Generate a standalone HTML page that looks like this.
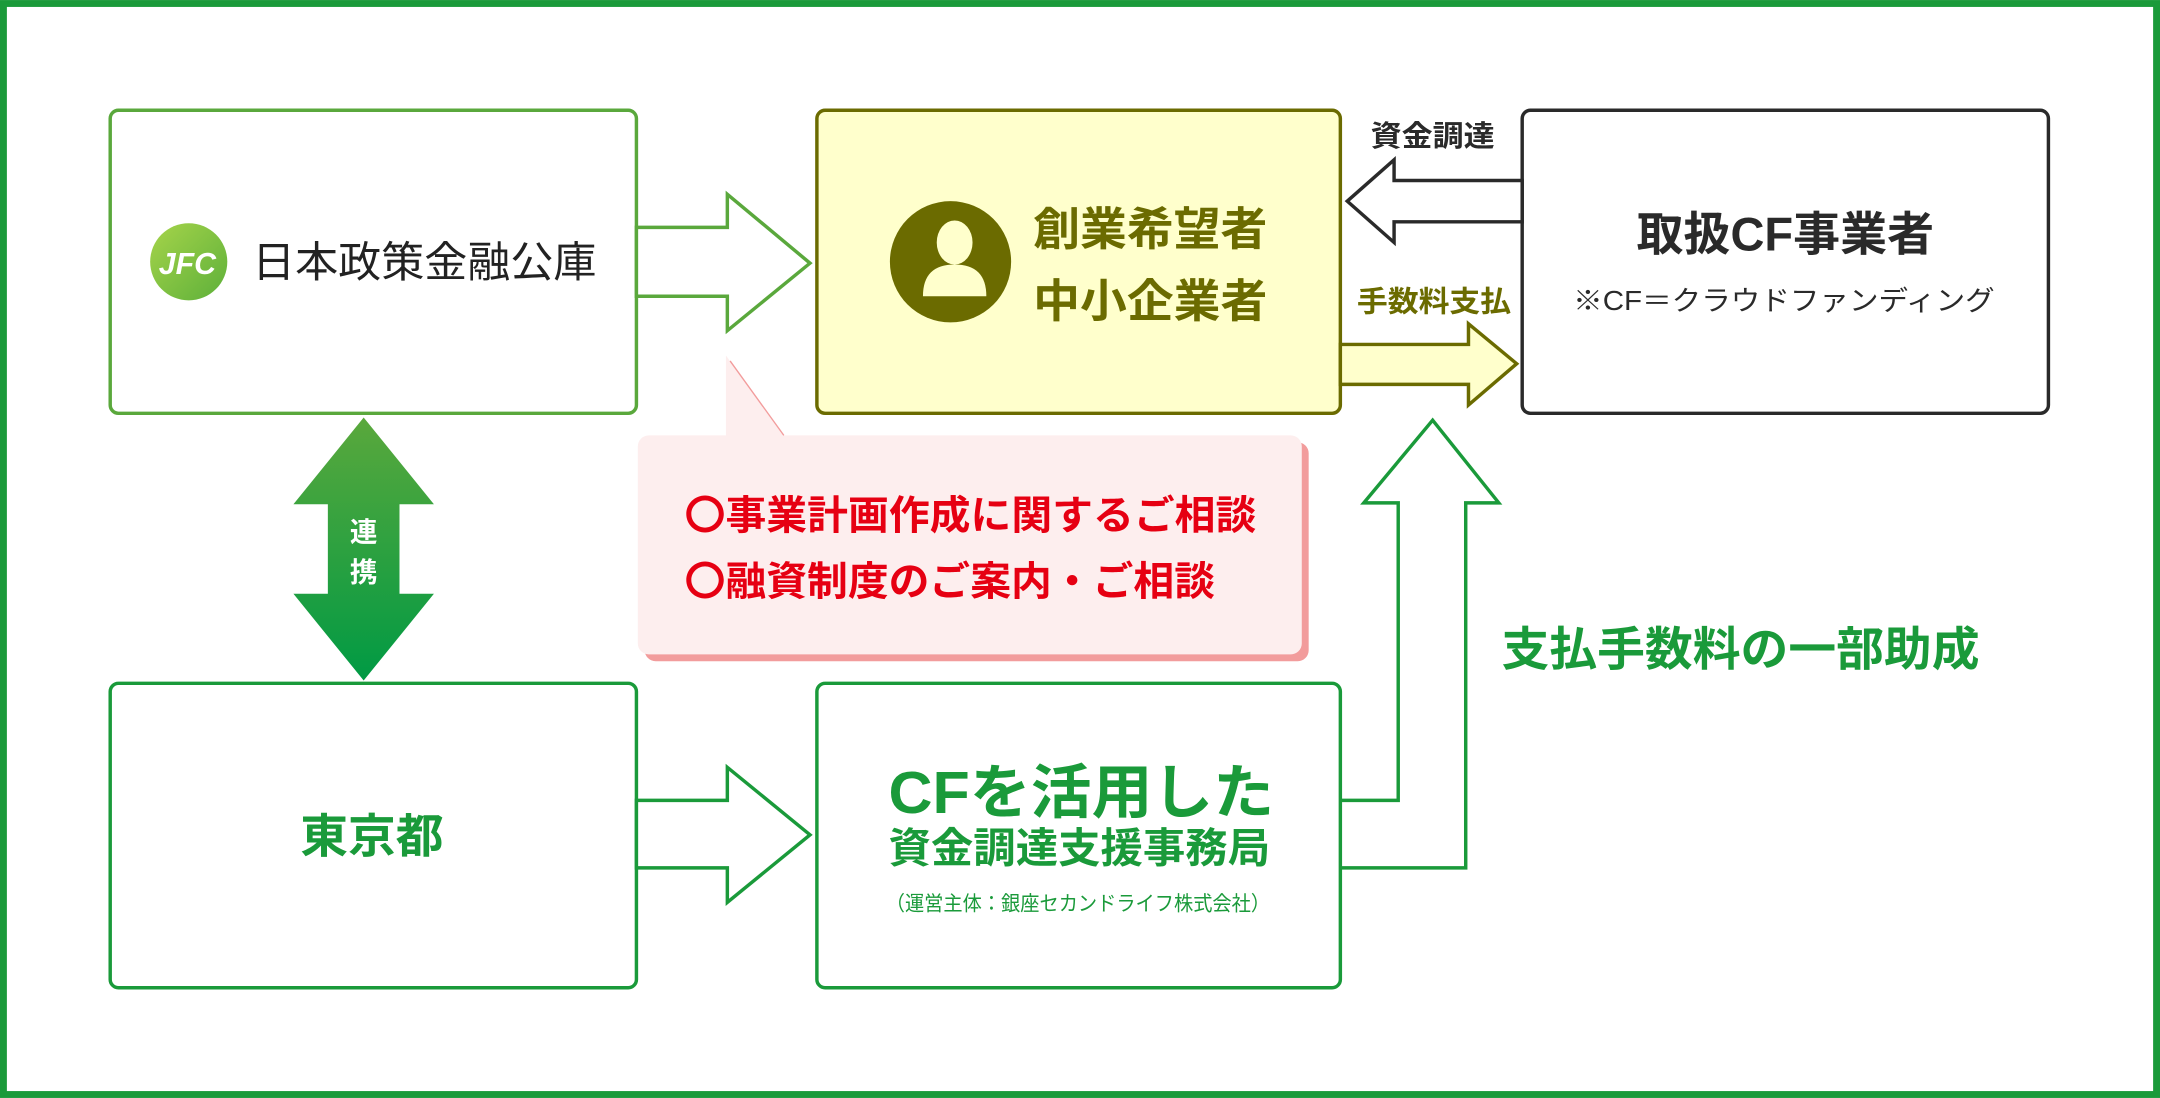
<!DOCTYPE html>
<html><head><meta charset="utf-8"><style>
html,body{margin:0;padding:0;background:#fff}
svg{display:block}
text{font-family:"Liberation Sans","Noto Sans CJK JP",sans-serif}
</style></head><body>
<svg width="2160" height="1098" viewBox="0 0 1568 797" xmlns="http://www.w3.org/2000/svg">
<defs>
<linearGradient id="dg" x1="0" y1="0" x2="0" y2="1"><stop offset="0" stop-color="#5aa83c"/><stop offset="1" stop-color="#009a44"/></linearGradient>
<linearGradient id="lg" x1="0" y1="0" x2="1" y2="1"><stop offset="0" stop-color="#a6d44a"/><stop offset="1" stop-color="#5db03a"/></linearGradient>
</defs>
<rect x="2.5" y="2.5" width="1563" height="792" fill="#fff" stroke="#1a9a3a" stroke-width="5"/>

<!-- JFC box -->
<rect x="80" y="80" width="382" height="220" rx="6" fill="#fff" stroke="#5aa83c" stroke-width="2.5"/>
<circle cx="137" cy="190" r="28" fill="url(#lg)"/>
<text x="136" y="199" font-size="22" font-weight="bold" font-style="italic" fill="#fff" text-anchor="middle">JFC</text>
<text x="183" y="201" font-size="31" fill="#222" textLength="250" lengthAdjust="spacingAndGlyphs">日本政策金融公庫</text>
<polygon points="462,165 528,165 528,141 588,191 528,240 528,215 462,215" fill="#fff" stroke="#5aa83c" stroke-width="2.5"/>

<!-- yellow box -->
<rect x="593" y="80" width="380" height="220" rx="6" fill="#ffffcc" stroke="#6b6b00" stroke-width="2.5"/>
<circle cx="690" cy="190" r="44" fill="#6b6b00"/>
<ellipse cx="693" cy="176" rx="13" ry="16" fill="#ffffcc"/>
<path d="M670 215 Q670 192 693 192 Q716 192 716 215 Z" fill="#ffffcc"/>
<text x="750" y="178" font-size="33" font-weight="bold" fill="#6b6b00" textLength="170" lengthAdjust="spacingAndGlyphs">創業希望者</text>
<text x="750" y="230" font-size="33" font-weight="bold" fill="#6b6b00" textLength="170" lengthAdjust="spacingAndGlyphs">中小企業者</text>

<!-- CF box -->
<rect x="1105" y="80" width="382" height="220" rx="6" fill="#fff" stroke="#2a2a2a" stroke-width="2.5"/>
<text x="1188" y="182" font-size="34" font-weight="bold" fill="#2a2a2a" textLength="216" lengthAdjust="spacingAndGlyphs">取扱CF事業者</text>
<text x="1142" y="225" font-size="20" fill="#2a2a2a" textLength="306" lengthAdjust="spacingAndGlyphs">※CF＝クラウドファンディング</text>

<!-- 資金調達 arrow -->
<polygon points="1105,131 1012,131 1012,116 978,146 1012,176 1012,161 1105,161" fill="#fff" stroke="#2a2a2a" stroke-width="2.5"/>
<text x="995" y="106" font-size="21" font-weight="bold" fill="#2a2a2a" textLength="90" lengthAdjust="spacingAndGlyphs">資金調達</text>

<!-- 手数料 arrow -->
<polygon points="973,250 1066,250 1066,235 1101,264 1066,294 1066,279 973,279" fill="#ffffcc" stroke="#6b6b00" stroke-width="2.5"/>
<text x="985" y="226" font-size="21" font-weight="bold" fill="#6b6b00" textLength="112" lengthAdjust="spacingAndGlyphs">手数料支払</text>

<!-- double arrow -->
<polygon points="264,303 315,366 290,366 290,431 315,431 264,494 213,431 238,431 238,366 213,366" fill="url(#dg)"/>
<text x="264" y="393" font-size="20" font-weight="bold" fill="#fff" text-anchor="middle">連</text>
<text x="264" y="422" font-size="20" font-weight="bold" fill="#fff" text-anchor="middle">携</text>

<!-- callout -->
<rect x="468" y="321" width="482" height="159" rx="8" fill="#f29c9c"/>
<rect x="463" y="316" width="482" height="159" rx="8" fill="#fdeeee"/>
<polygon points="527,258 570,318 527,318" fill="#fdeeee"/>
<line x1="530" y1="262" x2="569" y2="316" stroke="#f29c9c" stroke-width="1"/>
<text x="497" y="384" font-size="29" font-weight="bold" fill="#e60012" textLength="415" lengthAdjust="spacingAndGlyphs">〇事業計画作成に関するご相談</text>
<text x="497" y="432" font-size="29" font-weight="bold" fill="#e60012" textLength="385" lengthAdjust="spacingAndGlyphs">〇融資制度のご案内・ご相談</text>

<!-- bottom -->
<rect x="80" y="496" width="382" height="221" rx="6" fill="#fff" stroke="#1a9a3a" stroke-width="2.5"/>
<text x="218" y="619" font-size="34" font-weight="bold" fill="#1a9a3a" textLength="104" lengthAdjust="spacingAndGlyphs">東京都</text>
<polygon points="462,581 528,581 528,557 588,606 528,655 528,630 462,630" fill="#fff" stroke="#1a9a3a" stroke-width="2.5"/>

<rect x="593" y="496" width="380" height="221" rx="6" fill="#fff" stroke="#1a9a3a" stroke-width="2.5"/>
<text x="645" y="590" font-size="43" font-weight="bold" fill="#1a9a3a" textLength="280" lengthAdjust="spacingAndGlyphs">CFを活用した</text>
<text x="645" y="626" font-size="30" font-weight="bold" fill="#1a9a3a" textLength="277" lengthAdjust="spacingAndGlyphs">資金調達支援事務局</text>
<text x="643" y="661" font-size="15" fill="#1a9a3a" textLength="279" lengthAdjust="spacingAndGlyphs">（運営主体：銀座セカンドライフ株式会社）</text>

<polyline points="973,581 1015,581 1015,365 990,365 1040,305 1088,365 1064,365 1064,630 973,630" fill="none" stroke="#1a9a3a" stroke-width="2.5"/>
<text x="1090" y="483" font-size="34" font-weight="bold" fill="#1a9a3a" textLength="347" lengthAdjust="spacingAndGlyphs">支払手数料の一部助成</text>
</svg>
</body></html>
